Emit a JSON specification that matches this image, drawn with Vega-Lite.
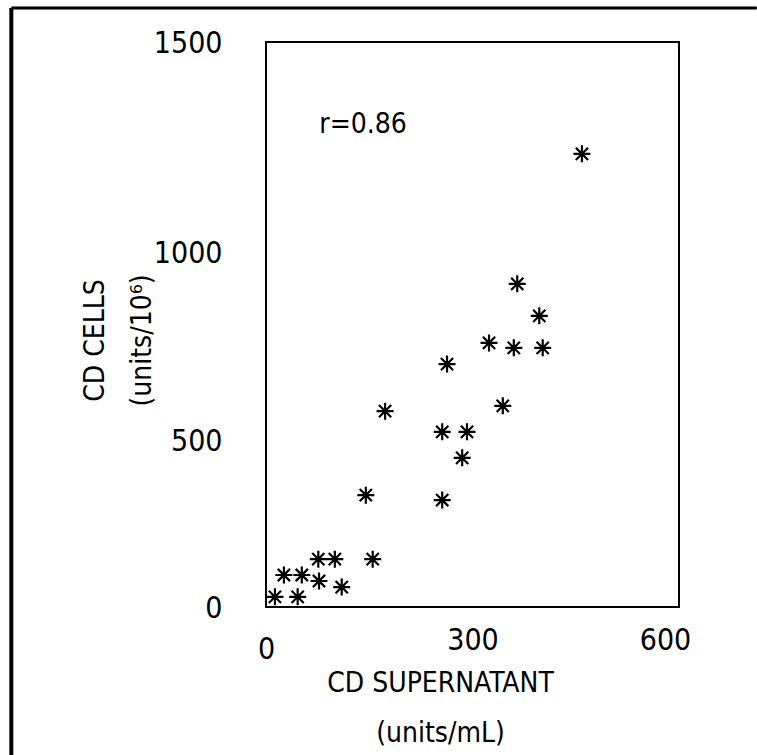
{
  "$schema": "https://vega.github.io/schema/vega-lite/v6.json",
  "width": 413,
  "height": 565,
  "autosize": "none",
  "padding": {"left": 266, "top": 42, "right": 78, "bottom": 148},
  "background": "white",
  "config": {
    "view": {"stroke": "black", "strokeWidth": 2},
    "font": "DejaVu Sans Condensed, sans-serif"
  },
  "layer": [
    {
      "data": {
        "values": [
          {"supernatant": 459, "cells": 1203},
          {"supernatant": 365, "cells": 858},
          {"supernatant": 397, "cells": 773},
          {"supernatant": 324, "cells": 701},
          {"supernatant": 360, "cells": 688},
          {"supernatant": 402, "cells": 688},
          {"supernatant": 263, "cells": 645},
          {"supernatant": 173, "cells": 520},
          {"supernatant": 344, "cells": 534},
          {"supernatant": 256, "cells": 465},
          {"supernatant": 292, "cells": 465},
          {"supernatant": 285, "cells": 396},
          {"supernatant": 145, "cells": 297},
          {"supernatant": 256, "cells": 284},
          {"supernatant": 76, "cells": 127},
          {"supernatant": 100, "cells": 127},
          {"supernatant": 155, "cells": 127},
          {"supernatant": 26, "cells": 85},
          {"supernatant": 52, "cells": 85},
          {"supernatant": 77, "cells": 69},
          {"supernatant": 110, "cells": 53},
          {"supernatant": 13, "cells": 27},
          {"supernatant": 46, "cells": 27}
        ]
      },
      "mark": {
        "type": "point",
        "shape": "M0,-1L0,1M-1,0L1,0M-0.72,-0.72L0.72,0.72M-0.72,0.72L0.72,-0.72",
        "size": 289,
        "filled": false,
        "stroke": "black",
        "strokeWidth": 2.2,
        "opacity": 1
      },
      "encoding": {
        "x": {
          "field": "supernatant",
          "type": "quantitative",
          "scale": {"domain": [0, 600], "nice": false, "zero": false},
          "axis": {
            "title": ["CD SUPERNATANT", "(units/mL)"],
            "values": [0, 300, 600],
            "format": "d",
            "ticks": false,
            "domain": false,
            "grid": false,
            "labelFlush": false,
            "labelColor": "black",
            "labelFontSize": 30,
            "labelBaseline": "middle",
            "labelPadding": {"condition": {"test": "datum.value == 0", "value": 42}, "value": 33},
            "labelOffset": {"condition": {"test": "datum.value == 600", "value": -14}, "value": 0},
            "titleColor": "black",
            "titleFontSize": 28,
            "titleFontWeight": "normal",
            "titleX": 174,
            "titleY": 84,
            "titleAlign": "center",
            "titleBaseline": "alphabetic",
            "titleLineHeight": 50
          }
        },
        "y": {
          "field": "cells",
          "type": "quantitative",
          "scale": {"domain": [0, 1500], "nice": false, "zero": false},
          "axis": {
            "title": ["CD CELLS", "(units/10⁶)"],
            "values": [0, 500, 1000, 1500],
            "format": "d",
            "ticks": false,
            "domain": false,
            "grid": false,
            "labelFlush": false,
            "labelColor": "black",
            "labelFontSize": 30,
            "labelAlign": "right",
            "labelBaseline": "middle",
            "labelPadding": 44,
            "labelOffset": {"condition": {"test": "datum.value == 500 || datum.value == 1000", "value": 23}, "value": 1},
            "titleColor": "black",
            "titleFontSize": 28,
            "titleFontWeight": "normal",
            "titleAngle": 270,
            "titleX": -163,
            "titleY": 298,
            "titleAlign": "center",
            "titleBaseline": "alphabetic",
            "titleLineHeight": 47
          }
        }
      }
    },
    {
      "data": {"values": [{"supernatant": 141, "cells": 1280, "label": "r=0.86"}]},
      "mark": {"type": "text", "fontSize": 28, "align": "center", "baseline": "middle", "color": "black"},
      "encoding": {
        "x": {"field": "supernatant", "type": "quantitative"},
        "y": {"field": "cells", "type": "quantitative"},
        "text": {"field": "label"}
      }
    },
    {
      "data": {"values": [{}]},
      "mark": {"type": "rule", "color": "black", "strokeWidth": 3, "clip": false},
      "encoding": {
        "x": {"datum": -370, "type": "quantitative"},
        "x2": {"datum": 713},
        "y": {"datum": 1590, "type": "quantitative"}
      }
    },
    {
      "data": {"values": [{}]},
      "mark": {"type": "rule", "color": "black", "strokeWidth": 4, "clip": false},
      "encoding": {
        "x": {"datum": -370, "type": "quantitative"},
        "y": {"datum": 1590, "type": "quantitative"},
        "y2": {"datum": -393}
      }
    }
  ]
}
